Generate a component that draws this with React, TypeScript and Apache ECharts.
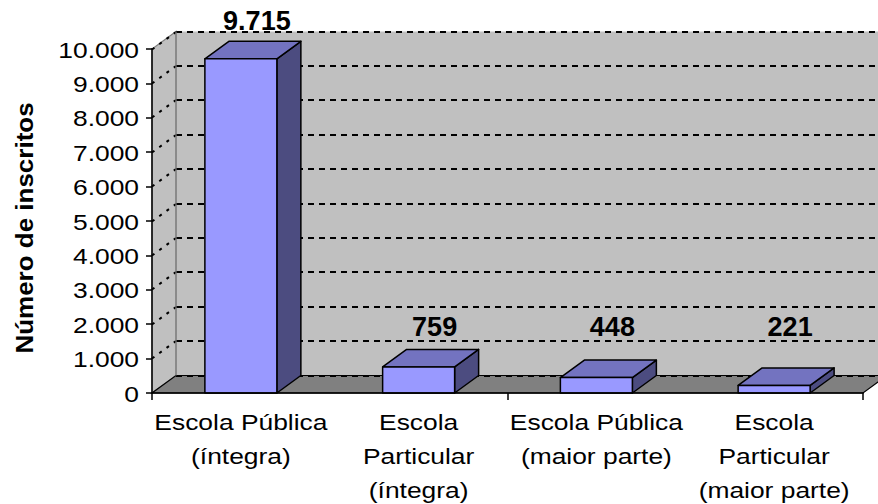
import React, { useEffect, useRef } from 'react';
import * as echarts from 'echarts';

const categoryLines: string[][] = [
  ['Escola Pública', '(íntegra)'],
  ['Escola', 'Particular', '(íntegra)'],
  ['Escola Pública', '(maior parte)'],
  ['Escola', 'Particular', '(maior parte)'],
];
const categoryNames = categoryLines.map((c) => c.join(' '));
const values = [9715, 759, 448, 221];
const yTicks = [0, 1000, 2000, 3000, 4000, 5000, 6000, 7000, 8000, 9000, 10000];
const yTickLabels = ['0', '1.000', '2.000', '3.000', '4.000', '5.000', '6.000', '7.000', '8.000', '9.000', '10.000'];
const yAxisTitle = 'Número de inscritos';

const FONT = '"Liberation Sans", Arial, Helvetica, sans-serif';
const DX = 24;
const DY = -17.5;
const TEXT_SCALE = 1.2;

const fmt = (n: number) => String(n).replace(/\B(?=(\d{3})+(?!\d))/g, '.');

export default function App() {
  const ref = useRef<HTMLDivElement>(null);
  useEffect(() => {
    if (!ref.current) return;
    const chart = echarts.init(ref.current, undefined, { renderer: 'svg' });

    const option: any = {
      animation: false,
      backgroundColor: '#ffffff',
      grid: { left: 152, right: 15, top: 49, bottom: 111, containLabel: false },
      graphic: [
        {
          type: 'text',
          x: 25,
          y: 228,
          rotation: Math.PI / 2,
          scaleX: 1.13,
          style: {
            text: yAxisTitle,
            fontFamily: FONT,
            fontWeight: 'bold',
            fontSize: 23,
            fill: '#000',
            align: 'center',
            verticalAlign: 'middle',
          },
        },
      ],
      xAxis: {
        type: 'category',
        data: categoryNames,
        boundaryGap: true,
        z: 10,
        axisLine: { show: true, lineStyle: { color: '#000', width: 1.5 } },
        axisTick: { show: true, length: 7, lineStyle: { color: '#000', width: 1.5 } },
        axisLabel: { show: false },
        splitLine: { show: false },
      },
      yAxis: {
        type: 'value',
        min: 0,
        max: 10000,
        interval: 1000,
        z: 10,
        axisLine: { show: true, lineStyle: { color: '#000', width: 1.5 } },
        axisTick: { show: true, length: 6, lineStyle: { color: '#000', width: 1.5 } },
        axisLabel: { show: false },
        splitLine: { show: false },
      },
      series: [
        {
          type: 'custom',
          name: 'walls',
          z: 1,
          silent: true,
          data: [[0, 0]],
          renderItem: (params: any, api: any) => {
            const cs = params.coordSys;
            const x0 = cs.x;
            const x1 = cs.x + cs.width;
            const yb = api.coord([0, 0])[1];
            const yt = api.coord([0, yTicks[yTicks.length - 1]])[1];
            const children: any[] = [];
            children.push({
              type: 'polygon',
              shape: {
                points: [
                  [x0 + DX, yt + DY],
                  [x1 + DX + 40, yt + DY],
                  [x1 + DX + 40, yb + DY],
                  [x0 + DX, yb + DY],
                ],
              },
              style: { fill: '#C0C0C0', stroke: 'none' },
            });
            children.push({
              type: 'polygon',
              shape: {
                points: [
                  [x0, yb],
                  [x0, yt],
                  [x0 + DX, yt + DY],
                  [x0 + DX, yb + DY],
                ],
              },
              style: { fill: '#C0C0C0', stroke: '#808080', lineWidth: 1.2 },
            });
            children.push({
              type: 'polygon',
              shape: {
                points: [
                  [x0, yb],
                  [x1, yb],
                  [x1 + DX, yb + DY],
                  [x0 + DX, yb + DY],
                ],
              },
              style: { fill: '#808080', stroke: '#000', lineWidth: 1.2 },
            });
            yTicks.forEach((v) => {
              const y = Math.round(api.coord([0, v])[1] + DY);
              children.push({
                type: 'line',
                shape: { x1: x0 + DX, y1: y, x2: x1 + DX + 40, y2: y },
                style: { stroke: '#000', lineWidth: 2, lineDash: [6, 5] },
              });
              if (v > 0) {
                children.push({
                  type: 'line',
                  shape: { x1: x0, y1: y - DY, x2: x0 + DX, y2: y },
                  style: { stroke: '#000', lineWidth: 2, lineDash: [3, 6] },
                });
              }
            });
            children.push({
              type: 'line',
              shape: { x1: x0 + DX, y1: yt + DY, x2: x0 + DX, y2: yb + DY },
              style: { stroke: '#808080', lineWidth: 1.2 },
            });
            return { type: 'group', children };
          },
        },
        {
          type: 'custom',
          name: 'bars',
          z: 3,
          data: values.map((v, i) => [i, v]),
          renderItem: (params: any, api: any) => {
            const idx = api.value(0);
            const v = api.value(1);
            const base = api.coord([idx, 0]);
            const top = api.coord([idx, v]);
            const bw = api.size([1, 0])[0] * 0.405;
            const xl = top[0] - bw / 2;
            const xr = top[0] + bw / 2;
            const yt = top[1];
            const yb = base[1];
            const stroke = { stroke: '#000', lineWidth: 1.5, lineJoin: 'round' };
            const labelY = Math.min(yt + DY - 20, yb - 66);
            return {
              type: 'group',
              children: [
                {
                  type: 'polygon',
                  shape: { points: [[xr, yt], [xr + DX, yt + DY], [xr + DX, yb + DY], [xr, yb]] },
                  style: { fill: '#4C4C80', ...stroke },
                },
                {
                  type: 'polygon',
                  shape: { points: [[xl, yt], [xr, yt], [xr + DX, yt + DY], [xl + DX, yt + DY]] },
                  style: { fill: '#7373C0', ...stroke },
                },
                {
                  type: 'rect',
                  shape: { x: xl, y: yt, width: bw, height: yb - yt },
                  style: { fill: '#9999FF', ...stroke },
                },
                {
                  type: 'text',
                  x: top[0] + DX / 2 + 4,
                  y: labelY,
                  style: {
                    text: fmt(v),
                    fontFamily: FONT,
                    fontWeight: 'bold',
                    fontSize: 27,
                    fill: '#000',
                    align: 'center',
                    verticalAlign: 'middle',
                  },
                },
              ],
            };
          },
        },
        {
          type: 'custom',
          name: 'yLabels',
          z: 4,
          silent: true,
          data: yTicks.map((v, i) => [0, v, i]),
          renderItem: (params: any, api: any) => {
            const cs = params.coordSys;
            const v = api.value(1);
            const i = api.value(2);
            const y = api.coord([0, v])[1];
            return {
              type: 'text',
              x: cs.x - 13,
              y: y + 1,
              scaleX: TEXT_SCALE,
              style: {
                text: yTickLabels[i],
                fontFamily: FONT,
                fontSize: 22,
                fill: '#000',
                align: 'right',
                verticalAlign: 'middle',
              },
            };
          },
        },
        {
          type: 'custom',
          name: 'xLabels',
          z: 4,
          silent: true,
          data: categoryLines.map((c, i) => [i, 0]),
          renderItem: (params: any, api: any) => {
            const idx = api.value(0);
            const p = api.coord([idx, 0]);
            return {
              type: 'text',
              x: p[0],
              y: p[1] + 12,
              scaleX: TEXT_SCALE,
              style: {
                text: categoryLines[idx].join('\n'),
                fontFamily: FONT,
                fontSize: 22,
                lineHeight: 34,
                fill: '#000',
                align: 'center',
                verticalAlign: 'top',
              },
            };
          },
        },
      ],
    };
    chart.setOption(option);
    return () => chart.dispose();
  }, []);

  return (
    <div
      ref={ref}
      style={{ position: 'fixed', left: 0, top: 0, width: 878, height: 504, background: '#fff' }}
    />
  );
}
